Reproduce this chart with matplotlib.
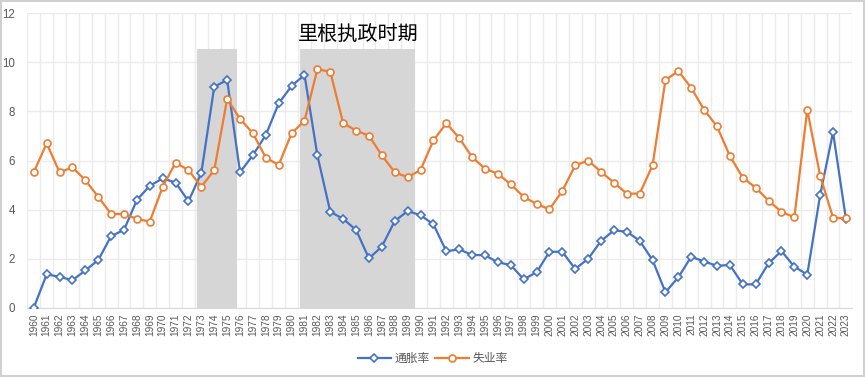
import matplotlib.pyplot as plt
import numpy as np

plt.rcParams['font.family'] = ['Liberation Sans', 'Noto Sans CJK SC', 'DejaVu Sans']

years = list(range(1960, 2024))
inflation = [0.0, 1.36, 1.26, 1.12, 1.52, 1.94, 2.92, 3.17, 4.39, 4.97,
             5.27, 5.1, 4.34, 5.5, 9.01, 9.28, 5.52, 6.22, 7.04, 8.33,
             9.04, 9.49, 6.21, 3.91, 3.62, 3.17, 2.01, 2.49, 3.53, 3.94,
             3.77, 3.4, 2.3, 2.38, 2.15, 2.14, 1.85, 1.74, 1.16, 1.44,
             2.28, 2.28, 1.58, 1.99, 2.72, 3.15, 3.1, 2.73, 1.94, 0.63,
             1.24, 2.08, 1.88, 1.71, 1.74, 0.95, 0.95, 1.81, 2.31, 1.67,
             1.35, 4.59, 7.15, 3.62]
unemployment = [5.52, 6.7, 5.52, 5.72, 5.2, 4.52, 3.82, 3.82, 3.62, 3.51,
                4.93, 5.91, 5.61, 4.93, 5.61, 8.51, 7.7, 7.11, 6.11, 5.82,
                7.11, 7.62, 9.72, 9.62, 7.52, 7.22, 7.01, 6.21, 5.52, 5.32,
                5.61, 6.82, 7.52, 6.92, 6.14, 5.67, 5.46, 5.03, 4.52, 4.23,
                4.01, 4.76, 5.8, 6.0, 5.54, 5.1, 4.65, 4.65, 5.8, 9.28,
                9.65, 8.96, 8.07, 7.39, 6.18, 5.3, 4.89, 4.36, 3.91, 3.68,
                8.07, 5.38, 3.67, 3.64]
series_names = ['通胀率', '失业率']
annotation = '里根执政时期'

# shaded periods (start, end) in category units
spans = [(1972.65, 1975.75), (1980.65, 1989.55)]

fig = plt.figure(figsize=(8.65, 3.77), dpi=100)
fig.patch.set_edgecolor('#d0d0d0')
fig.patch.set_linewidth(1.5)
ax = fig.add_axes([0.0316, 0.1838, 0.9538, 0.7809])

for s, e in spans:
    ax.bar(s, 10.6, width=e - s, bottom=-0.05, align='edge', color='#d6d6d6', zorder=1)

blue = '#4472C4'
orange = '#ED7D31'
ax.plot(years, inflation, color=blue, lw=1.6, marker='D', ms=4, mfc='white',
        mec=blue, mew=1.2, label=series_names[0], zorder=3)
ax.plot(years, unemployment, color=orange, lw=1.6, marker='o', ms=5, mfc='white',
        mec=orange, mew=1.2, label=series_names[1], zorder=3)

ax.text(1985.2, 11.1, annotation, fontsize=14.5, ha='center', va='center',
        family=['Noto Sans CJK SC'], color='black')

ax.set_xlim(1959.5, 2023.5)
ax.set_ylim(0, 12)
ax.set_yticks(np.arange(0, 13, 2))
ax.set_xticks(years)
ax.set_xticklabels([str(y) for y in years], rotation=90)
ax.set_xticks(np.arange(1959.5, 2024, 1), minor=True)
ax.grid(which='minor', axis='x', color='#ebebeb', lw=1, zorder=0)
ax.grid(which='major', axis='y', color='#ebebeb', lw=1, zorder=0)
ax.tick_params(axis='both', which='both', length=0, colors='#595959')
ax.tick_params(axis='x', labelsize=7.3, pad=4)
ax.tick_params(axis='y', labelsize=8.3, pad=9)
for sp in ['top', 'right', 'left']:
    ax.spines[sp].set_visible(False)
ax.spines['bottom'].set_color('#d9d9d9')
ax.set_axisbelow(True)

leg = fig.legend(loc='center', bbox_to_anchor=(0.5, 0.048), ncol=2, frameon=False,
                 fontsize=8.5, handlelength=2.8, columnspacing=0.5, handletextpad=0.3)
for t in leg.get_texts():
    t.set_color('#595959')

fig.savefig('out.png', dpi=100)
